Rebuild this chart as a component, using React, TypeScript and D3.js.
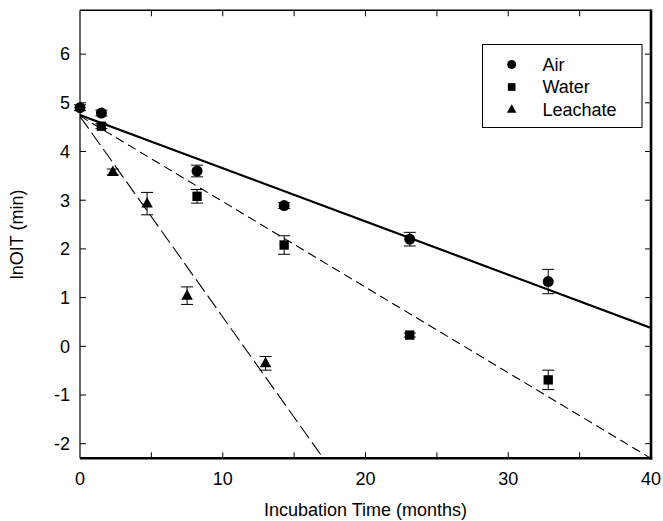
import React, { useEffect, useRef } from "react";
import * as d3 from "d3";

type Pt = { t: number; v: number; e: number };

// Air, Water, Leachate: time (months), lnOIT, error
const airData: Pt[] = [
  { t: 0, v: 4.9, e: 0.06 },
  { t: 1.5, v: 4.79, e: 0.06 },
  { t: 8.2, v: 3.6, e: 0.12 },
  { t: 14.3, v: 2.89, e: 0.06 },
  { t: 23.1, v: 2.2, e: 0.14 },
  { t: 32.8, v: 1.33, e: 0.25 },
];
const waterData: Pt[] = [
  { t: 1.5, v: 4.52, e: 0.05 },
  { t: 8.2, v: 3.08, e: 0.14 },
  { t: 14.3, v: 2.08, e: 0.19 },
  { t: 23.1, v: 0.23, e: 0.04 },
  { t: 32.8, v: -0.69, e: 0.2 },
];
const leachateData: Pt[] = [
  { t: 2.3, v: 3.58, e: 0.06 },
  { t: 4.7, v: 2.93, e: 0.23 },
  { t: 7.5, v: 1.04, e: 0.18 },
  { t: 13.0, v: -0.35, e: 0.14 },
];

// regression lines: intercept, slope
const airFit = { b: 4.75, m: -0.1093 };
const waterFit = { b: 4.73, m: -0.1758 };
const leachFit = { b: 4.72, m: -0.4118 };

const xTicks = [0, 10, 20, 30, 40];
const xMinor = [5, 15, 25, 35];
const yTicks = [-2, -1, 0, 1, 2, 3, 4, 5, 6];
const legendLabels = ["Air", "Water", "Leachate"];

const W = 663;
const H = 521;
const left = 80, right = 651, top = 10.3, bottom = 458.3;
const FONT = "'Liberation Sans', Arial, sans-serif";

export default function App() {
  const ref = useRef<SVGSVGElement | null>(null);

  useEffect(() => {
    if (!ref.current) return;
    const svg = d3.select(ref.current);
    svg.selectAll("*").remove();

    const x = d3.scaleLinear().domain([0, 40]).range([left, right]);
    const y = d3.scaleLinear().domain([-2.3, 6.9]).range([bottom, top]);

    const clip = svg.append("clipPath").attr("id", "plotclip");
    clip.append("rect").attr("x", left).attr("y", top).attr("width", right - left).attr("height", bottom - top);

    // fit lines
    const fitLine = (f: { b: number; m: number }, dash: string | null, w: number) => {
      const x2 = Math.min(40, (-2.3 - f.b) / f.m);
      const l = svg.append("line")
        .attr("clip-path", "url(#plotclip)")
        .attr("x1", x(0)).attr("y1", y(f.b))
        .attr("x2", x(x2)).attr("y2", y(f.b + f.m * x2))
        .attr("stroke", "#000").attr("stroke-width", w);
      if (dash) l.attr("stroke-dasharray", dash);
    };
    fitLine(airFit, null, 2.2);
    fitLine(waterFit, "9,5", 1.1);
    fitLine(leachFit, "15,5", 1.1);

    // axes frame
    svg.append("line").attr("x1", left).attr("x2", left).attr("y1", top).attr("y2", bottom)
      .attr("stroke", "#000").attr("stroke-width", 1.2);
    svg.append("line").attr("x1", left).attr("x2", right).attr("y1", top).attr("y2", top)
      .attr("stroke", "#000").attr("stroke-width", 1.5);
    svg.append("line").attr("x1", right).attr("x2", right).attr("y1", top - 0.7).attr("y2", bottom + 1.2)
      .attr("stroke", "#000").attr("stroke-width", 2.6);
    svg.append("line").attr("x1", left).attr("x2", right + 1.2).attr("y1", bottom).attr("y2", bottom)
      .attr("stroke", "#000").attr("stroke-width", 2.6);

    const tickLen = 6;
    [...xTicks, ...xMinor].forEach((t) => {
      if (t === 0 || t === 40) return;
      svg.append("line").attr("x1", x(t)).attr("x2", x(t)).attr("y1", bottom).attr("y2", bottom - tickLen)
        .attr("stroke", "#000").attr("stroke-width", 1);
      svg.append("line").attr("x1", x(t)).attr("x2", x(t)).attr("y1", top).attr("y2", top + tickLen)
        .attr("stroke", "#000").attr("stroke-width", 1);
    });
    yTicks.forEach((t) => {
      svg.append("line").attr("x1", left).attr("x2", left + tickLen).attr("y1", y(t)).attr("y2", y(t))
        .attr("stroke", "#000").attr("stroke-width", 1);
      svg.append("line").attr("x1", right).attr("x2", right - tickLen).attr("y1", y(t)).attr("y2", y(t))
        .attr("stroke", "#000").attr("stroke-width", 1);
    });

    // tick labels
    svg.selectAll(".xl").data(xTicks).enter().append("text")
      .attr("x", (d) => x(d)).attr("y", 484.5)
      .attr("text-anchor", "middle").attr("font-family", FONT).attr("font-size", 18)
      .text((d) => String(d));
    svg.selectAll(".yl").data(yTicks).enter().append("text")
      .attr("x", 70).attr("y", (d) => y(d)).attr("dy", "0.35em")
      .attr("text-anchor", "end").attr("font-family", FONT).attr("font-size", 18)
      .text((d) => String(d));

    // axis titles
    svg.append("text").attr("x", (left + right) / 2).attr("y", 516)
      .attr("text-anchor", "middle").attr("font-family", FONT).attr("font-size", 18)
      .text("Incubation Time (months)");
    svg.append("text").attr("transform", `translate(23,${(top + bottom) / 2}) rotate(-90)`)
      .attr("text-anchor", "middle").attr("font-family", FONT).attr("font-size", 18)
      .text("lnOIT (min)");

    // markers
    const drawMarker = (g: d3.Selection<SVGGElement, unknown, null, undefined>, kind: string, cx: number, cy: number, s: number) => {
      if (kind === "circle") {
        g.append("circle").attr("cx", cx).attr("cy", cy).attr("r", s).attr("fill", "#000");
      } else if (kind === "square") {
        g.append("rect").attr("x", cx - s * 0.85).attr("y", cy - s * 0.85).attr("width", s * 1.7).attr("height", s * 1.7).attr("fill", "#000");
      } else {
        const h = s * 1.9;
        g.append("path")
          .attr("d", `M${cx},${cy - h * 0.62} L${cx + s * 1.05},${cy + h * 0.38} L${cx - s * 1.05},${cy + h * 0.38} Z`)
          .attr("fill", "#000");
      }
    };

    const series: [Pt[], string][] = [
      [leachateData, "triangle"],
      [waterData, "square"],
      [airData, "circle"],
    ];
    const g = svg.append("g");
    series.forEach(([data, kind]) => {
      data.forEach((d) => {
        const cx = x(d.t);
        g.append("line").attr("x1", cx).attr("x2", cx).attr("y1", y(d.v + d.e)).attr("y2", y(d.v - d.e))
          .attr("stroke", "#000").attr("stroke-width", 1);
        [d.v + d.e, d.v - d.e].forEach((v) => {
          g.append("line").attr("x1", cx - 6).attr("x2", cx + 6).attr("y1", y(v)).attr("y2", y(v))
            .attr("stroke", "#000").attr("stroke-width", 1);
        });
        drawMarker(g, kind, cx, y(d.v), 5.5);
      });
    });

    // legend
    svg.append("rect").attr("x", 482.5).attr("y", 44.5).attr("width", 159.5).attr("height", 83)
      .attr("fill", "#fff").attr("stroke", "#000").attr("stroke-width", 1);
    const kinds = ["circle", "square", "triangle"];
    const lg = svg.append("g");
    legendLabels.forEach((lab, i) => {
      const ly = 64.5 + i * 22.5;
      drawMarker(lg, kinds[i], 511.7, ly, 4.5);
      lg.append("text").attr("x", 542.5).attr("y", ly).attr("dy", "0.35em")
        .attr("font-family", FONT).attr("font-size", 18).text(lab);
    });
  }, []);

  return (
    <svg ref={ref} width={W} height={H} style={{ position: "absolute", left: 0, top: 0, background: "#fff" }} />
  );
}
